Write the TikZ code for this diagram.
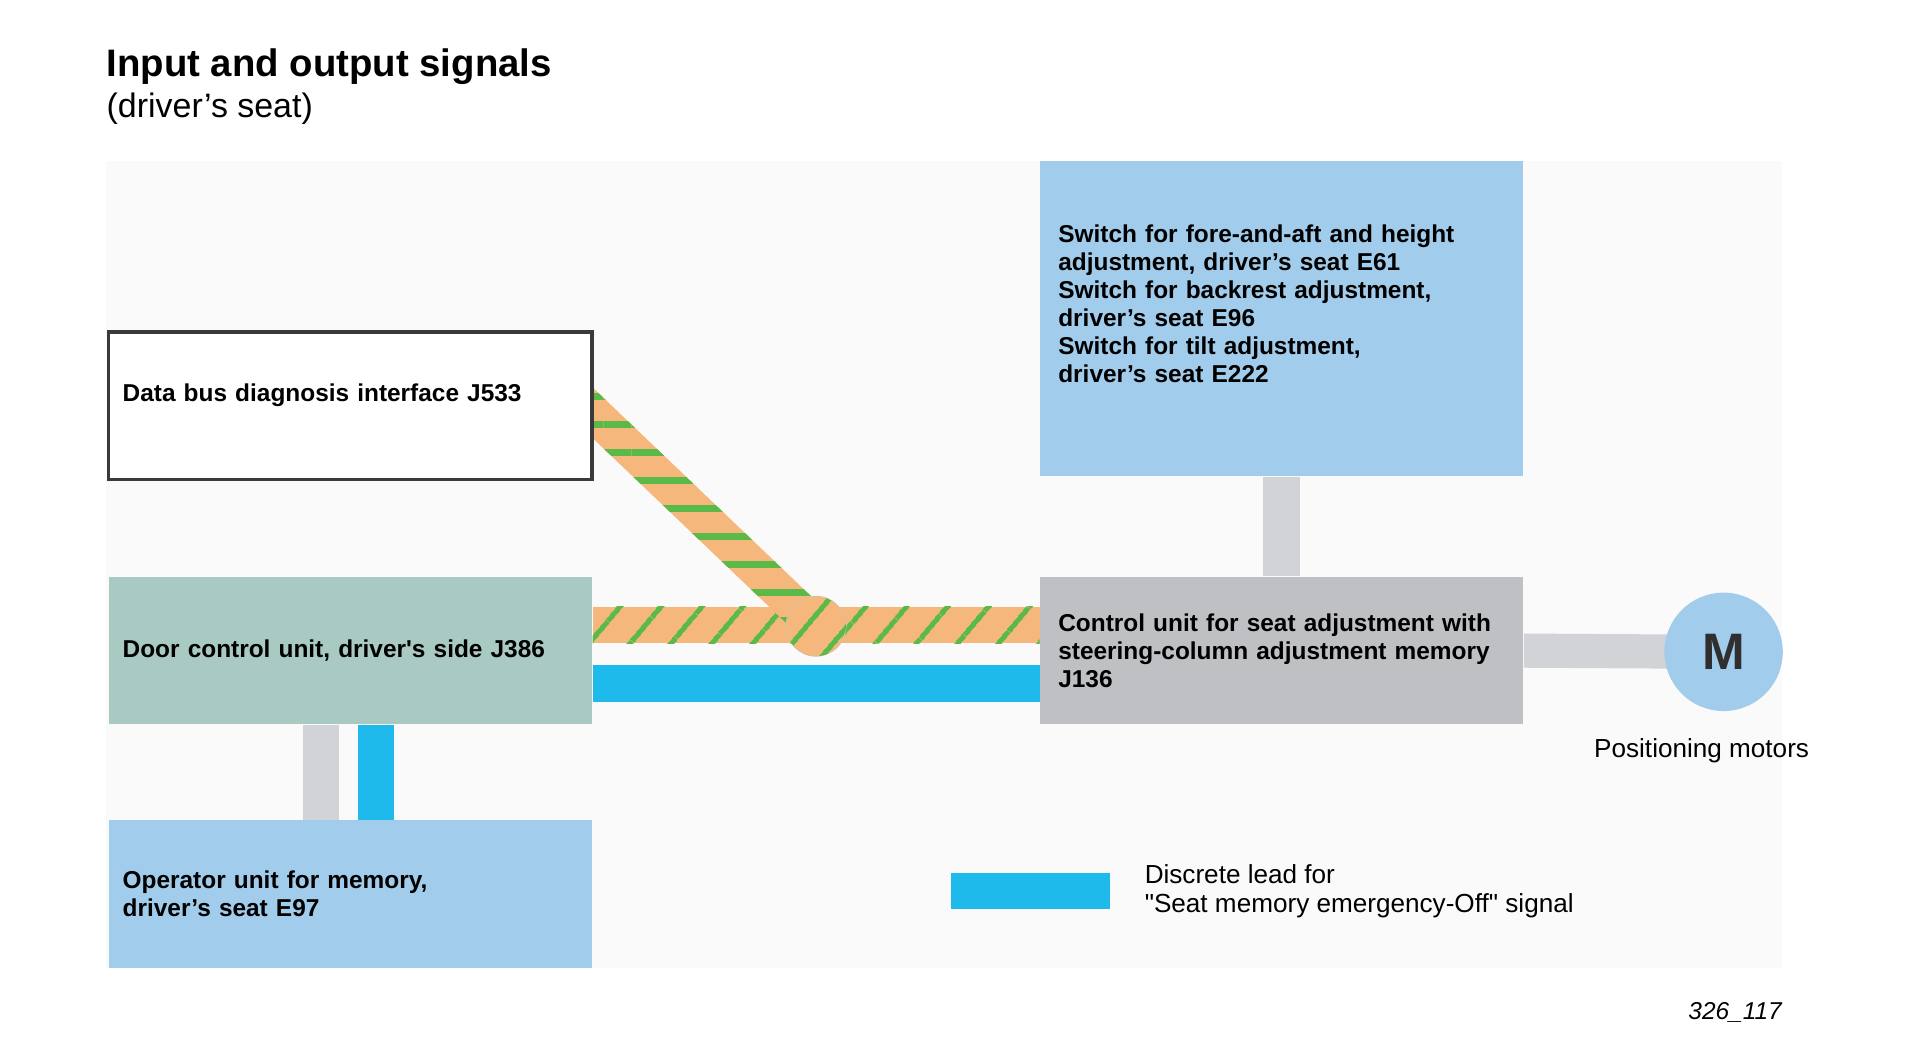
\documentclass[tikz,border=0pt]{standalone}
\usepackage{fontspec}
\setmainfont{Liberation Sans}
\usetikzlibrary{positioning,calc,patterns.meta}

\definecolor{boxblue}{HTML}{A2CCEB}
\definecolor{doorgreen}{HTML}{A8CAC2}
\definecolor{ecugray}{HTML}{BFC0C4}
\definecolor{leadgray}{HTML}{D2D3D6}
\definecolor{leadcyan}{HTML}{1EBAEC}
\definecolor{busorange}{HTML}{F6B77C}
\definecolor{busgreen}{HTML}{5BB947}
\definecolor{panelgray}{HTML}{FAFAFA}
\definecolor{framegray}{HTML}{3A3A3A}
\definecolor{inkgray}{HTML}{2F2F2F}

\newcommand\boxfont{\fontsize{10}{11.5}\selectfont\bfseries}
\newcommand\notefont{\fontsize{10.7}{12}\selectfont}

\pgfdeclarelayer{panel}
\pgfdeclarelayer{leads}
\pgfsetlayers{panel,leads,main}

\begin{document}
\begin{tikzpicture}[x=0.5pt, y=-0.5pt,
	unit/.style = {rectangle, minimum width=198pt, minimum height=60.5pt, inner ysep=0pt, inner xsep=5.75pt, text width=186.5pt, align=left, font=\boxfont},
	wideunit/.style = {unit, inner xsep=7.5pt, text width=183pt},
	graylead/.style = {draw=leadgray, line width=15pt},
	cyanlead/.style = {draw=leadcyan, line width=15pt},
	busfill/.style = {fill=busorange, postaction={pattern={Lines[angle=#1, distance=13pt, line width=2.3pt]}, pattern color=busgreen}},
	note/.style = {inner sep=0pt, align=left, font=\notefont}]

	\useasboundingbox (0,0) rectangle (1568,853.6);

	% heading
	\node[anchor=base west, inner sep=0pt, font=\fontsize{15.7}{19}\selectfont\bfseries] (title) at (87,63) {Input and output signals};
	\node[anchor=base west, inner sep=0pt, font=\fontsize{13.9}{16}\selectfont] (subtitle) at (87,96) {(driver’s seat)};

	% units
	\node[wideunit, fill=boxblue, minimum height=129pt, text depth=70pt] (switches) at (1050,261) {Switch for fore-and-aft and height\\ adjustment, driver’s seat E61\\ Switch for backrest adjustment,\\ driver’s seat E96\\ Switch for tilt adjustment,\\ driver’s seat E222};
	\node[unit, fill=white, draw=framegray, line width=1.4pt, text depth=10.6pt] (gateway) at (287,332.5) {Data bus diagnosis interface J533};
	\node[unit, fill=doorgreen] (door) at (287,533) {Door control unit, driver\textquotesingle s side J386};
	\node[wideunit, fill=ecugray] (seatecu) at (1050,533) {Control unit for seat adjustment with\\ steering-column adjustment memory\\ J136};
	\node[unit, fill=boxblue] (memory) at (287,732.5) {Operator unit for memory,\\ driver’s seat E97};
	\node[circle, fill=boxblue, minimum size=48.5pt, inner sep=0pt, text=inkgray, font=\fontsize{21}{21}\selectfont\bfseries] (motor) at (1412,534) {M};
	\node[note, below=11pt of motor, xshift=-9pt] (motorlabel) {Positioning motors};
	\node[circle, minimum size=24.5pt, inner sep=0pt, busfill=50, draw=busorange!80!black!60, line width=0.4pt] (hub) at ([yshift=10pt]$(door.east)!0.5!(seatecu.west)$) {};

	% key
	\node[rectangle, fill=leadcyan, minimum width=65pt, minimum height=15pt, inner sep=0pt] (keybar) at (844,730) {};
	\node[note, right=14pt of keybar] (keytext) {Discrete lead for\\ \textquotedbl Seat memory emergency-Off\textquotedbl{} signal};

	\node[anchor=base east, inner sep=0pt, font=\fontsize{10}{12}\selectfont\itshape] (figno) at (1460,835) {326\_117};

	\begin{pgfonlayer}{panel}
		\fill[panelgray] (87,132) rectangle (1460,793);
	\end{pgfonlayer}

	\begin{pgfonlayer}{leads}
		\draw[graylead] (switches.south) -- (seatecu.north);
		\draw[graylead, line width=14pt] (seatecu.east) -- (motor.center);
		\draw[graylead] ([xshift=-12pt]door.south) -- ([xshift=-12pt]memory.north);
		\draw[cyanlead] ([xshift=10.5pt]door.south) -- ([xshift=10.5pt]memory.north);
		\draw[cyanlead] ([yshift=-13.5pt]door.east) -- ([yshift=-13.5pt]seatecu.west);

		% CAN bus
		\path[busfill=50] ([yshift=18pt]door.east) rectangle ([yshift=3pt]seatecu.west);
		\coordinate (busin) at ([yshift=-3.25pt]gateway.east);
		\coordinate (busfar) at ($(hub)!1.2!(busin)$);
		\path[fill=busorange, postaction={pattern={Lines[angle=0, distance=11.5pt, line width=2.8pt]}, pattern color=busgreen}]
			($(busfar)!7.5pt!90:(hub)$) -- ($(hub)!7.5pt!-90:(busfar)$) -- ($(hub)!7.5pt!90:(busfar)$) -- ($(busfar)!7.5pt!-90:(hub)$) -- cycle;
	\end{pgfonlayer}
\end{tikzpicture}
\end{document}
